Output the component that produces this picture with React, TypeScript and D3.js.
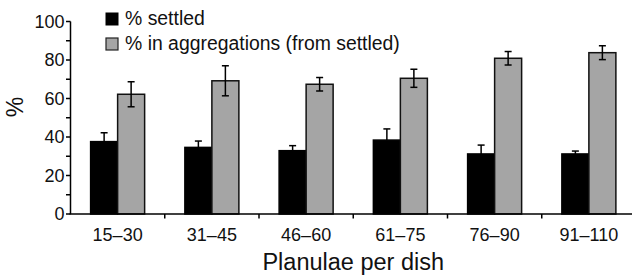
import React from "react";
import * as d3 from "d3";

const categories = ["15–30", "31–45", "46–60", "61–75", "76–90", "91–110"];
const settled = [37.6, 34.6, 32.9, 38.4, 31.2, 31.2];
const settledErr = [4.6, 3.3, 2.6, 5.8, 4.6, 1.5];
const aggregated = [62.2, 69.2, 67.4, 70.5, 80.9, 83.8];
const aggregatedErr = [6.5, 7.8, 3.5, 4.7, 3.5, 3.6];
const yTicks = [0, 20, 40, 60, 80, 100];
const yMinorTicks = [10, 30, 50, 70, 90];
const legendLabels = ["% settled", "% in aggregations (from settled)"];

const W = 632;
const H = 276;
const FONT = "'Liberation Sans', Arial, Helvetica, sans-serif";

export default function App() {
  const x0 = 70.5;
  const x1 = 636;
  const x = d3.scaleBand<string>().domain(categories).range([x0, x1]);
  const inner = d3.scaleBand<string>().domain(["s", "a"]).range([0, x.bandwidth()]).paddingOuter(0.745).paddingInner(0);
  const y = d3.scaleLinear().domain([0, 100]).range([214, 21.5]);
  const bw = inner.bandwidth();
  const cap = 3.5;
  const sw = 1.5;

  return (
    <svg width={W} height={H} style={{ position: "absolute", left: 0, top: 0, background: "#fff" }}>
      {categories.map((c, i) => {
        const gx = x(c)!;
        const sx = gx + inner("s")!;
        const ax = gx + inner("a")!;
        const scx = sx + bw / 2;
        const acx = ax + bw / 2;
        return (
          <g key={c}>
            <rect x={sx} y={y(settled[i])} width={bw} height={y(0) - y(settled[i])} fill="#000" stroke="#000" strokeWidth={sw} />
            <line x1={scx} x2={scx} y1={y(settled[i])} y2={y(settled[i] + settledErr[i])} stroke="#000" strokeWidth={sw} />
            <line x1={scx - cap} x2={scx + cap} y1={y(settled[i] + settledErr[i])} y2={y(settled[i] + settledErr[i])} stroke="#000" strokeWidth={sw} />
            <rect x={ax} y={y(aggregated[i])} width={bw} height={y(0) - y(aggregated[i])} fill="#a5a5a5" stroke="#111" strokeWidth={sw} />
            <line x1={acx} x2={acx} y1={y(aggregated[i] - aggregatedErr[i])} y2={y(aggregated[i] + aggregatedErr[i])} stroke="#000" strokeWidth={sw} />
            <line x1={acx - cap} x2={acx + cap} y1={y(aggregated[i] + aggregatedErr[i])} y2={y(aggregated[i] + aggregatedErr[i])} stroke="#000" strokeWidth={sw} />
            <line x1={acx - cap} x2={acx + cap} y1={y(aggregated[i] - aggregatedErr[i])} y2={y(aggregated[i] - aggregatedErr[i])} stroke="#000" strokeWidth={sw} />
          </g>
        );
      })}
      <line x1={x0} x2={x0} y1={y(100)} y2={y(0)} stroke="#000" strokeWidth={sw} />
      {yTicks.map((t) => (
        <g key={t}>
          <line x1={x0 - 4.5} x2={x0} y1={y(t)} y2={y(t)} stroke="#000" strokeWidth={sw} />
          <text x={x0 - 6} y={y(t)} dy="0.35em" textAnchor="end" fontFamily={FONT} fontSize={18} fill="#111">{t}</text>
        </g>
      ))}
      {yMinorTicks.map((t) => (
        <line key={t} x1={x0 - 4.5} x2={x0} y1={y(t)} y2={y(t)} stroke="#000" strokeWidth={sw} />
      ))}
      <line x1={x0 - 1} x2={W} y1={y(0)} y2={y(0)} stroke="#000" strokeWidth={sw} />
      {categories.slice(1).map((c) => (
        <line key={c} x1={x(c)!} x2={x(c)!} y1={y(0)} y2={y(0) + 4.5} stroke="#000" strokeWidth={sw} />
      ))}
      {categories.map((c) => (
        <text key={c} x={x(c)! + x.bandwidth() / 2} y={241} textAnchor="middle" fontFamily={FONT} fontSize={18} fill="#111">{c}</text>
      ))}
      <text x={(x0 + x1) / 2} y={270} textAnchor="middle" fontFamily={FONT} fontSize={23.5} fill="#111">Planulae per dish</text>
      <text transform={`translate(23,107) rotate(-90)`} textAnchor="middle" fontFamily={FONT} fontSize={23} fill="#111">%</text>
      <rect x={106} y={13} width={12} height={12} fill="#000" stroke="#000" strokeWidth={1} />
      <text x={125} y={25} fontFamily={FONT} fontSize={19.4} fill="#111">{legendLabels[0]}</text>
      <rect x={106} y={38} width={12} height={12} fill="#a5a5a5" stroke="#222" strokeWidth={1.2} />
      <text x={125} y={50} fontFamily={FONT} fontSize={19.4} fill="#111">{legendLabels[1]}</text>
    </svg>
  );
}
